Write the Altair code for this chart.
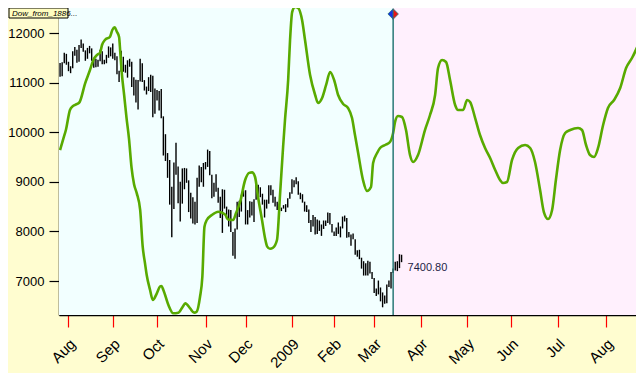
import altair as alt
import pandas as pd

# ---------------- data ----------------
# x axis = trading-day index (0 = 28 Jul 2008); month ticks at first trading day
month_ticks = [4, 25, 46, 69, 88, 110, 130, 149, 171, 193, 214, 236, 259]
month_labels = ["Aug", "Sep", "Oct", "Nov", "Dec", "2009", "Feb", "Mar",
                "Apr", "May", "Jun", "Jul", "Aug"]
y_ticks = [7000, 8000, 9000, 10000, 11000, 12000]

# daily high / low bars, 28 Jul 2008 .. 19 Mar 2009
high_jul = [11397, 11410, 11600, 11580]
high_aug = [11420, 11330, 11630, 11720, 11660, 11760, 11870, 11790, 11650, 11700, 11740,
            11690, 11480, 11480, 11460, 11660, 11630, 11460, 11560, 11730, 11710]
high_sep = [11790, 11600, 11530, 11240, 11640, 11520, 11360, 11450, 11480, 11420, 11110,
            11060, 11050, 11480, 11390, 11050, 10920, 11110, 11160, 11140, 10880]
high_oct = [10850, 10830, 10870, 10320, 9960, 9580, 9440, 8900, 9390, 9790, 9310, 9000,
            9270, 9280, 9270, 9030, 8780, 8690, 8600, 9080, 9330, 9300, 9380]
high_nov = [9400, 9650, 9620, 9140, 8980, 9150, 8880, 8700, 8850, 8840, 8500, 8440, 8430,
            7990, 8060, 8600, 8620, 8740, 8830]
high_dec = [8830, 8430, 8610, 8600, 8650, 8950, 8940, 8890, 8760, 8640, 8640, 8930, 8930,
            8840, 8700, 8600, 8560, 8480, 8530, 8550, 8670, 8790]
high_jan = [9050, 9030, 9090, 9010, 8780, 8750, 8600, 8530, 8440, 8230, 8330, 8290, 8240,
            8220, 8140, 8220, 8220, 8380, 8370, 8150]
high_feb = [8000, 8080, 8180, 8100, 8300, 8320, 8270, 7990, 7940, 7960, 7840, 7620, 7630,
            7470, 7400, 7360, 7410, 7390, 7180]
high_mar = [7060, 6850, 7010, 6870, 6770, 6710, 6930, 7010, 7180, 7250, 7390, 7400, 7540, 7530]

low_jul = [11120, 11130, 11390, 11360]
low_aug = [11230, 11190, 11290, 11540, 11400, 11420, 11700, 11620, 11440, 11480, 11590,
           11440, 11300, 11310, 11320, 11430, 11370, 11370, 11390, 11500, 11530]
low_sep = [11480, 11450, 11170, 11010, 11220, 11220, 11200, 11100, 11320, 10910, 10740,
           10600, 10460, 11020, 11010, 10840, 10760, 10830, 10810, 10300, 10370]
low_oct = [10640, 10440, 10280, 9530, 9420, 9080, 8540, 7880, 8450, 9140, 8570, 8200,
           8560, 8850, 8980, 8390, 8260, 8160, 8140, 8170, 8900, 8990, 8900]
low_nov = [9250, 9300, 9130, 8670, 8700, 8800, 8580, 8270, 7970, 8460, 8250, 8100, 7990,
           7510, 7450, 8040, 8290, 8400, 8700]
low_dec = [8140, 8140, 8280, 8320, 8190, 8640, 8660, 8690, 8540, 8280, 8460, 8560, 8730,
           8580, 8500, 8430, 8400, 8410, 8460, 8390, 8480, 8660]
low_jan = [8760, 8890, 8950, 8740, 8650, 8580, 8400, 8390, 8170, 7990, 8100, 7940, 7950,
           8010, 7910, 8050, 8110, 8170, 8140, 7980]
low_feb = [7910, 7910, 7950, 7880, 8060, 8200, 7870, 7880, 7710, 7840, 7530, 7490, 7440,
           7250, 7110, 7110, 7110, 7150, 7040]
low_mar = [6760, 6700, 6730, 6590, 6470, 6540, 6550, 6880, 6850, 7160, 7210, 7200, 7260, 7380]

# green projection / cycle line (index, value)
cycle_idx = [0, 1.6, 2.8, 4.7, 6.2, 8.1, 9.3, 11.9, 14.2, 15.8, 17.6, 19.0, 19.9, 21.3,
             23.7, 24.8, 25.9, 26.9, 28.0, 28.6, 29.3, 30.4, 31.5, 32.7, 33.9, 35.1, 36.4,
             38.0, 39.2, 40.3, 41.1, 42.7, 44.0, 45.9, 47.4, 48.1, 49.0, 51.4, 53.7, 56.1,
             58.2, 59.4, 61.7, 63.6, 64.8, 66.4, 67.5, 68.5, 69.6, 72.0, 75.1, 78.3, 79.7,
             82.1, 83.5, 85.4, 87.8, 89.7, 91.1, 92.5, 93.9, 95.8, 97.3, 98.2, 99.6, 101.0,
             102.9, 104.4, 105.8, 106.7, 108.2, 109.1, 110.1, 111.5, 112.9, 114.8, 116.2,
             118.6, 121.0, 122.4, 124.3, 126.2, 128.1, 130.0, 131.9, 134.3, 136.6, 138.5,
             139.9, 141.4, 143.7, 145.6, 147.5, 148.5, 150.4, 151.8, 154.2, 156.5, 158.0,
             158.9, 160.3, 162.2, 164.1, 166.0, 167.5, 169.8, 173.1, 175.5, 177.9, 179.3,
             181.2, 183.1, 185.0, 187.4, 188.8, 191.2, 193.1, 194.5, 196.9, 199.2, 201.6,
             204.0, 206.4, 208.7, 210.1, 212.0, 214.4, 217.3, 220.6, 223.0, 225.3, 227.7,
             229.5, 231.5, 233.4, 235.2, 237.2, 239.6, 242.0, 245.7, 247.6, 249.5, 251.4,
             253.3, 255.2, 257.6, 259.9, 262.8, 265.7, 268.5, 271.3, 274.2, 276.1, 277.0]
cycle_val = [9640, 9877, 10050, 10448, 10530, 10570, 10610, 10985, 11254, 11456, 11560,
             11600, 11758, 11859, 11926, 12060, 12115, 12030, 11920, 11590, 11188, 10750,
             10300, 9870, 9290, 8950, 8768, 8432, 7692, 7357, 7121, 6819, 6617, 6752, 6890,
             6900, 6819, 6516, 6349, 6360, 6483, 6550, 6449, 6362, 6382, 6684, 7087, 8095,
             8230, 8331, 8398, 8340, 8240, 8230, 8371, 8593, 9036, 9180, 9190, 9097, 8700,
             8230, 7850, 7700, 7650, 7670, 7827, 8774, 9702, 10246, 11052, 11859, 12423,
             12524, 12504, 12262, 11859, 11153, 10750, 10589, 10690, 10952, 11214, 11052,
             10750, 10569, 10488, 10286, 9944, 9581, 9036, 8815, 8895, 9379, 9581, 9682,
             9742, 9803, 9984, 10206, 10327, 10307, 10044, 9540, 9399, 9540, 10044, 10347,
             10750, 11294, 11456, 11415, 11052, 10549, 10448, 10448, 10649, 10609, 10286,
             9944, 9682, 9480, 9238, 9036, 8976, 8996, 9440, 9682, 9742, 9682, 9399, 8835,
             8391, 8250, 8432, 9036, 9641, 9984, 10044, 10085, 10044, 9742, 9540, 9500,
             9682, 10145, 10488, 10649, 10891, 11294, 11496, 11758, 11960, 12060]

marker_idx = 158          # vertical divider (13 Mar 2009)
marker_level = 12383
last_idx = 162
last_close = 7400.80
legend_text = "Dow_from_1886..."

x_domain = [-0.5, 273.2]
y_domain = [6315, 12504]

# ---------------- tables ----------------
bar_high = high_jul + high_aug + high_sep + high_oct + high_nov + high_dec + high_jan + high_feb + high_mar
bar_low = low_jul + low_aug + low_sep + low_oct + low_nov + low_dec + low_jan + low_feb + low_mar
bars = pd.DataFrame({"i": list(range(len(bar_high))), "hi": bar_high, "lo": bar_low})
cycle = pd.DataFrame({"i": cycle_idx, "v": cycle_val})
zones = pd.DataFrame({"i": [x_domain[0], marker_idx], "x1": [marker_idx, x_domain[1]],
                      "v": [y_domain[0]] * 2, "y1": [y_domain[1]] * 2,
                      "c": ["#F2FFFF", "#FFF0FD"]})
mark_df = pd.DataFrame({"i": [marker_idx], "v": [marker_level]})
last_df = pd.DataFrame({"i": [last_idx], "v": [last_close], "t": [f"{last_close:.2f}"]})

FONT = "Liberation Sans"
label_expr = ("[" + ",".join(f"'{m}'" for m in month_labels) + "][indexof(["
              + ",".join(str(t) for t in month_ticks) + "], datum.value)]")

xs = alt.Scale(domain=x_domain, nice=False, zero=False)
ys = alt.Scale(domain=y_domain, nice=False, zero=False)

x_axis = alt.Axis(values=month_ticks, labelExpr=label_expr, title=None, grid=False,
                  tickColor="#FF0000", tickSize=12, tickWidth=1.2, domainColor="black",
                  domainWidth=1.5, labelAngle=315, labelAlign="right", labelBaseline="middle",
                  labelFontSize=15, labelFont=FONT, labelColor="black", labelPadding=14,
                  labelOffset=4, labelOverlap=False, labelFlush=False, labelBound=False)
y_axis = alt.Axis(values=y_ticks, format="d", title=None, grid=False, tickColor="black",
                  tickSize=10, tickWidth=1.2, domainColor="black", domainWidth=1.5,
                  labelFontSize=13, labelFont=FONT, labelColor="black", labelPadding=5,
                  labelFlush=False)

X = alt.X("i:Q", scale=xs, axis=x_axis, title=None)
Y = alt.Y("v:Q", scale=ys, axis=y_axis, title=None)

bg = alt.Chart(zones).mark_rect().encode(
    x=X, x2="x1", y=Y, y2="y1", color=alt.Color("c:N", scale=None))

bar_layer = alt.Chart(bars).mark_rule(color="black", strokeWidth=1.4, clip=True).encode(
    x=X, y=alt.Y("lo:Q", scale=ys, axis=y_axis, title=None), y2="hi")

line_layer = alt.Chart(cycle).mark_line(color="#58AA00", strokeWidth=2.6,
                                         interpolate="monotone", clip=True).encode(x=X, y=Y)

divider = alt.Chart(mark_df).mark_rule(color="#2A7878", strokeWidth=1.5).encode(
    x=X, y=alt.value(4), y2=alt.value(307))

left_half = alt.Chart(mark_df).mark_point(shape="M0,-1L-1,0L0,1Z", filled=True, size=110,
                                          fill="#1530E8", stroke="#2A7878", strokeWidth=0.8,
                                          opacity=1).encode(x=X, y=Y)
right_half = alt.Chart(mark_df).mark_point(shape="M0,-1L1,0L0,1Z", filled=True, size=110,
                                           fill="#E81515", stroke="#2A7878", strokeWidth=0.8,
                                           opacity=1).encode(x=X, y=Y)

last_label = alt.Chart(last_df).mark_text(align="left", baseline="top", dx=6, dy=1,
                                          fontSize=11, font=FONT, color="#1E1E46").encode(
    x=X, y=Y, text="t:N")

tag_df = pd.DataFrame({"t": [legend_text]})
tag_box = alt.Chart(tag_df).mark_rect(fill="#FFFDC0", stroke="black", strokeWidth=1).encode(
    x=alt.value(-50), x2=alt.value(9), y=alt.value(0), y2=alt.value(10))
tag_text = alt.Chart(tag_df).mark_text(align="left", baseline="middle", fontSize=8,
                                       fontStyle="italic", font=FONT, color="black").encode(
    x=alt.value(-47), y=alt.value(5.5), text="t:N")

chart = alt.layer(bg, bar_layer, line_layer, divider, left_half, right_half, last_label,
                  tag_box, tag_text).properties(
    width=577, height=307,
    autosize=alt.AutoSizeParams(type="none"),
    padding={"left": 51, "top": 0, "right": 0, "bottom": 58},
    background="#FFFDD0",
).configure_view(strokeWidth=0)

chart.save("out.html", embed_options={"renderer": "svg", "actions": False})
